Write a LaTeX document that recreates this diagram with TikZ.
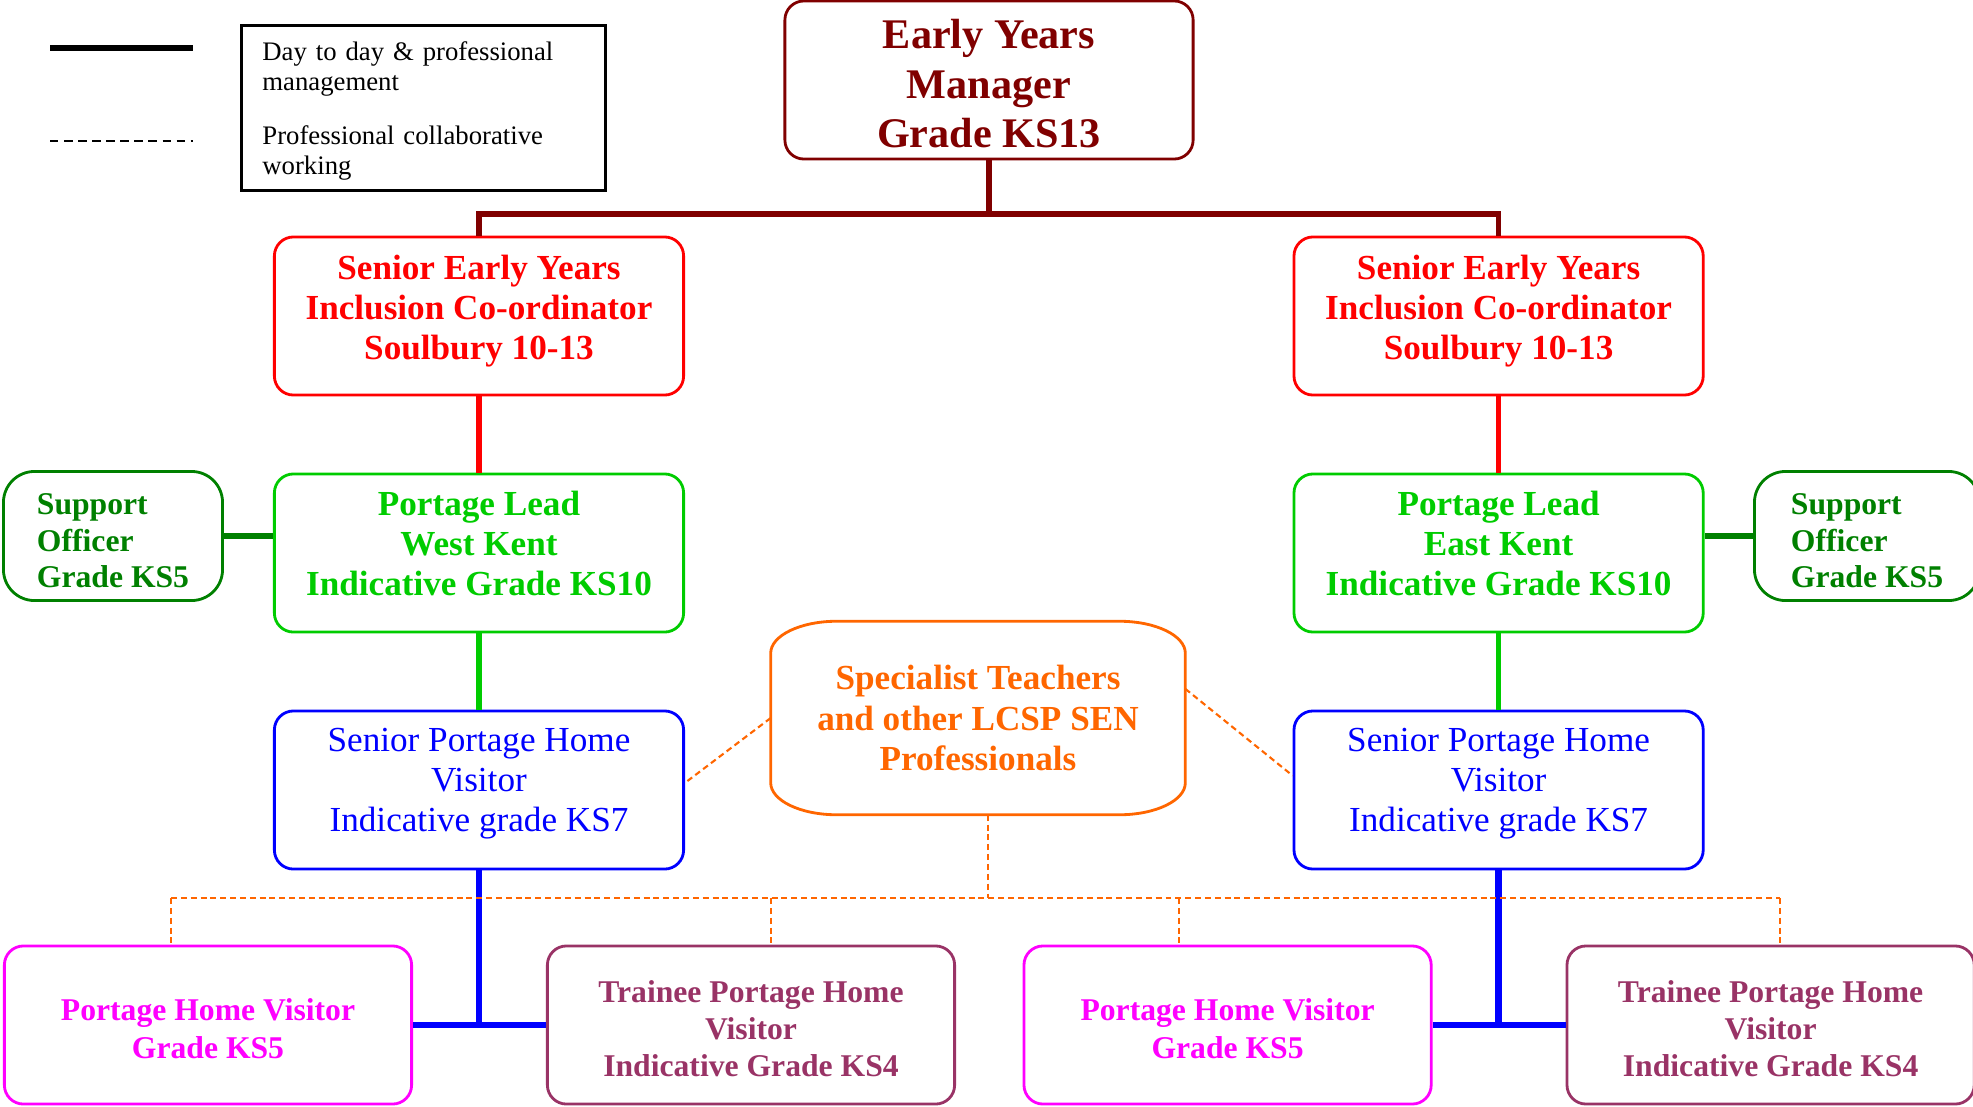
\documentclass[tikz,border=0pt]{standalone}
\usepackage{fontspec}
\setmainfont{Liberation Serif}
\definecolor{maroon}{RGB}{128,0,0}
\definecolor{lime}{RGB}{0,204,0}
\definecolor{dkgreen}{RGB}{0,128,0}
\definecolor{tangerine}{RGB}{255,102,0}
\definecolor{fuchsia}{RGB}{255,0,255}
\definecolor{plum}{RGB}{153,51,102}
\newcommand{\branch}[2]{%
\begin{scope}[xshift = #2cm]
\node[box, draw = red, text = red, text depth = 0.18cm] (senior#1) at (479,316) {Senior Early Years\\Inclusion Co-ordinator\\Soulbury 10-13};
\node[box, draw = lime, text = lime, text depth = 0.2cm] (lead#1) at (479,553) {Portage Lead\\#1\\Indicative Grade KS10};
\node[box, draw = blue, text = blue, text depth = 0.2cm, font = \fontsize{10}{11.4}\selectfont] (visitor#1) at (479,790) {Senior Portage Home\\Visitor\\Indicative grade KS7};
\node[box, draw = fuchsia, text = fuchsia, small, text height = 19pt] (home#1) at (208,1025) {Portage Home Visitor\\Grade KS5};
\node[box, draw = plum, text = plum, small, text height = 29.6pt] (trainee#1) at (751,1025) {Trainee Portage Home\\Visitor\\Indicative Grade KS4};
\draw[mgmt, red] (senior#1) -- (lead#1);
\draw[mgmt, lime] (lead#1) -- (visitor#1);
\draw[mgmt, blue, line width = 1.8pt] (visitor#1.south) -- (visitor#1.south |- home#1.east);
\draw[mgmt, blue, line width = 1.8pt] (home#1) -- (trainee#1);
\end{scope}}

\begin{document}
\begin{tikzpicture}[x = 0.01cm, y = -0.01cm,
  box/.style = {draw, rounded corners = 0.19cm, line width = 0.8pt, align = center, inner sep = 1pt,
    minimum width = 4.09cm, minimum height = 1.58cm, font = \fontsize{10}{11.4}\selectfont\bfseries},
  small/.style = {minimum width = 4.07cm, font = \fontsize{9}{10.6}\selectfont\bfseries},
  officer/.style = {box, draw = dkgreen, text = dkgreen, rounded corners = 0.31cm, minimum height = 1.29cm,
    align = left, text height = 29.6pt, font = \fontsize{9}{10.4}\selectfont\bfseries},
  mgmt/.style = {line width = 1.5pt},
  collab/.style = {tangerine, line width = 0.6pt, dash pattern = on 1.7pt off 1.1pt}]
\useasboundingbox (0,0) rectangle (1973,1106);
\draw[line width = 1.6pt] (50,48) -- (193,48);
\draw[line width = 0.5pt, dash pattern = on 2.4pt off 1.6pt] (50,141) -- (193,141);
\node[draw, line width = 0.8pt, anchor = north west, minimum width = 3.64cm, minimum height = 1.65cm, inner sep = 0pt,
  text width = 3.22cm, text height = 7pt, align = left, font = \fontsize{7.6}{8.6}\selectfont] (key) at (240,24)
  {Day to day \& professional\\management\\[0.24cm]Professional collaborative\\working};
\node[box, draw = maroon, text = maroon, text height = 38.4pt, font = \fontsize{12}{14}\selectfont\bfseries, minimum width = 4.08cm] (manager) at (989,80) {Early Years\\Manager\\Grade KS13};
\branch{West Kent}{0}
\branch{East Kent}{10.19}
\node[officer, minimum width = 2.19cm] (supportW) at (113,536) {Support\\Officer\\Grade KS5};
\node[officer, minimum width = 2.25cm] (supportE) at (1867,536) {Support\\Officer\\Grade KS5};
\node[align = center, text = tangerine, minimum width = 4.13cm, minimum height = 1.92cm, font = \fontsize{10}{11.4}\selectfont\bfseries] (specialist) at (978,718) {Specialist Teachers\\and other LCSP SEN\\Professionals};
\draw[tangerine, line width = 0.8pt] ([xshift = 0.66cm]specialist.north west) -- ([xshift = -0.66cm]specialist.north east)
  arc[start angle = 90, end angle = 0, x radius = 0.66cm, y radius = 0.32cm] -- ([yshift = 0.32cm]specialist.south east)
  arc[start angle = 0, end angle = -90, x radius = 0.66cm, y radius = 0.32cm] -- ([xshift = 0.66cm]specialist.south west)
  arc[start angle = 270, end angle = 180, x radius = 0.66cm, y radius = 0.32cm] -- ([yshift = -0.32cm]specialist.north west)
  arc[start angle = 180, end angle = 90, x radius = 0.66cm, y radius = 0.32cm] -- cycle;
\coordinate (split) at (989,214);
\draw[mgmt, maroon] (manager) -- (split);
\draw[mgmt, maroon] (seniorWest Kent.north) |- (split) -| (seniorEast Kent.north);
\draw[mgmt, dkgreen, line width = 1.7pt] (supportW.east) -- (supportW.east -| leadWest Kent.west);
\draw[mgmt, dkgreen, line width = 1.7pt] (supportE.west) -- (supportE.west -| leadEast Kent.east);
\draw[collab] (specialist.west) -- (visitorWest Kent.2);
\draw[collab] (specialist.8) -- (visitorEast Kent.176);
\coordinate (hub) at (988,898);
\draw[collab] (specialist.south -| hub) -- (hub);
\foreach \n/\x/\b in {1/171/homeWest Kent, 2/771/traineeWest Kent, 3/1179/homeEast Kent, 4/1780/traineeEast Kent} {
  \coordinate (drop\n) at (\x,898);
  \draw[collab] (drop\n) -- (drop\n |- \b.north);
}
\draw[collab] (drop1) -- (drop4);
\end{tikzpicture}
\end{document}
